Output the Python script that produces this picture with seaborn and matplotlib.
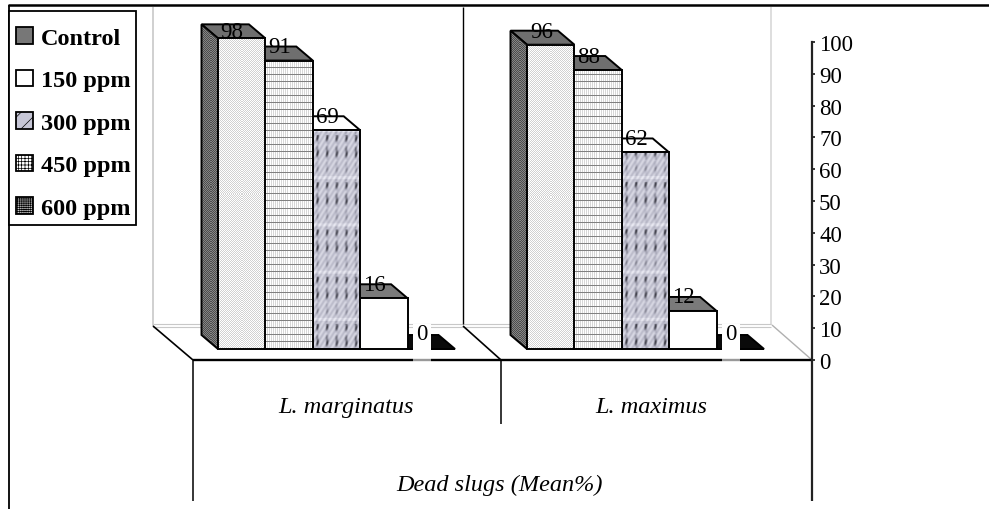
import numpy as np
import pandas as pd
import matplotlib
matplotlib.use("Agg")
import matplotlib.pyplot as plt
import seaborn as sns
from matplotlib.colors import LinearSegmentedColormap
from matplotlib.patches import Patch, Polygon, Rectangle
from matplotlib.lines import Line2D
from matplotlib.transforms import Affine2D

species = ["L. marginatus", "L. maximus"]
doses = ["Control", "150 ppm", "300 ppm", "450 ppm", "600 ppm"]
marginatus = [98, 91, 69, 16, 0]
maximus = [96, 88, 62, 12, 0]
y_ticks = [0, 10, 20, 30, 40, 50, 60, 70, 80, 90, 100]
axis_title = "Dead slugs (Mean%)"

# style per dose
front_faces = ["dots", "lines", "knit", "#ffffff", "#0a0a0a"]
top_faces = ["#6f6f6f", "#6f6f6f", "#ffffff", "#7a7a7a", "#0a0a0a"]

W, H = 989, 510
sns.set_style("white")
plt.rcParams['font.family'] = ['Liberation Serif', 'DejaVu Serif']
plt.rcParams['text.color'] = 'black'
plt.rcParams['hatch.linewidth'] = 0.5

fig = plt.figure(figsize=(W / 100, H / 100), dpi=100)
ax = fig.add_axes([0, 0, 1, 1])
# pixel coordinates for the frame, walls and floor
px = Affine2D().scale(1, -1).translate(0, H)

df = pd.DataFrame({
    'species': [species[0]] * 5 + [species[1]] * 5,
    'dose': doses * 2,
    'dead': marginatus + maximus,
})
sns.barplot(data=df, x='species', y='dead', hue='dose', hue_order=doses,
            order=species, palette=['white'] * 5, width=237 / 309, gap=0,
            errorbar=None, legend=False, edgecolor='black', linewidth=1.4, ax=ax)

# data scale so that 0 sits on the front of the floor
PX_PER_X = 309
PX_PER_Y = 3.17
ax.set_xlim((0 - 336.5) / PX_PER_X, (W - 336.5) / PX_PER_X)
ax.set_ylim((350 - H) / PX_PER_Y, 350 / PX_PER_Y)
xlim, ylim = ax.get_xlim(), ax.get_ylim()
ax.axis('off')

knit_cmap = LinearSegmentedColormap.from_list('knit', ['#3c3c46', '#b4b4c4', '#f0f0f8'])


def texture(kind, w, h):
    yy, xx = np.mgrid[0:h, 0:w]
    if kind == "dots":
        return np.where((xx + yy) % 2 == 0, 0.82, 1.0)
    if kind == "side":
        return np.where((xx + yy) % 2 == 0, 0.30, 0.52)
    if kind == "lines":
        arr = np.where(xx % 2 == 0, 0.84, 1.0)
        arr[(h - 1 - yy) % 7 == 0] = 0.5
        return arr
    # knit stitches, repeating in bands
    col = np.cos(2 * np.pi * (xx - 4) / 9.4)
    row = (h - yy) % 47 / 47.0
    dark = np.where(row < 0.55, 1.0, 0.45) * np.abs(np.sin(np.pi * row * 3))
    bright = np.where((row > 0.6) & (row < 0.66), 0.15, 0.0)
    return np.clip(0.68 - 0.62 * np.maximum(col, 0) ** 2 * dark + 0.14 * np.sin(xx * 1.3 + yy * 0.8) + bright, 0, 1)


dx, dy = 16.5 / PX_PER_X, 14 / PX_PER_Y
for i, bars in enumerate(ax.containers):
    z = 20 - 3 * i
    for bar in bars:
        x0, w, v = bar.get_x(), bar.get_width(), bar.get_height()
        bar.set_zorder(z)
        top = Polygon([(x0, v), (x0 + w, v), (x0 + w - dx, v + dy), (x0 - dx, v + dy)],
                      facecolor=top_faces[i], edgecolor='black', linewidth=1.4, zorder=z - 1)
        ax.add_patch(top)
        if v > 0:
            face = front_faces[i]
            if face in ("dots", "lines", "knit"):
                bar.set_facecolor('none')
                ax.imshow(texture(face, int(w * PX_PER_X), int(v * PX_PER_Y)),
                          cmap=knit_cmap if face == "knit" else 'gray',
                          vmin=0, vmax=1, aspect='auto', interpolation='bilinear' if face == "knit" else 'nearest',
                          extent=(x0, x0 + w, 0, v), zorder=z - 0.5)
            else:
                bar.set_facecolor(face)
        if i == 0:
            side = Polygon([(x0, 0), (x0, v), (x0 - dx, v + dy), (x0 - dx, dy)],
                           facecolor='none', edgecolor='black', linewidth=1.4, zorder=z - 0.7)
            ax.add_patch(side)
            side_img = ax.imshow(texture("side", 16, int(v * PX_PER_Y) + 14), cmap='gray',
                                 vmin=0, vmax=1, aspect='auto', interpolation='nearest',
                                 extent=(x0 - dx, x0, 0, v + dy), zorder=z - 0.8)
            side_img.set_clip_path(side)
        # value label above the bar
        off = min(14, 350 - v * PX_PER_Y - 33)
        ax.annotate(f"{v:.0f}", (x0 + w / 2, v), xytext=(-9.5, off if v > 0 else 15),
                    textcoords='offset pixels', ha='center', va='center', fontsize=16.5,
                    color='black', zorder=40)
ax.set_xlim(xlim)
ax.set_ylim(ylim)


def line(xs, ys, color='black', lw=1.2, z=3):
    ax.add_line(Line2D(xs, ys, transform=px, color=color, linewidth=lw, zorder=z,
                       solid_capstyle='butt'))


# frame
line([8, W], [6, 6], lw=1.8)
line([8.5, 8.5], [6, H], lw=1.3)
# back walls and floor
line([153, 153], [8, 327], color='#c8c8c8')
line([771, 771], [8, 326], color='#d8d8d8')
line([153, 771], [325, 325], color='#c8c8c8', lw=0.8)
line([153, 771], [327.5, 327.5], color='#c8c8c8', lw=0.8)
line([463, 463], [8, 325], lw=1)
line([153, 193], [327, 361])
line([463, 501], [327, 361])
line([772, 812], [326, 361], color='#b0b0b0', lw=1)
# front edge and dividers
line([193, 812], [361, 361], lw=1.7)
line([193, 193], [361, 502], lw=1.1)
line([501, 501], [361, 425], lw=1.1)
line([812, 812], [361, 502], color='#222222', lw=1.6)

# white gap behind the zero labels
for gap_x in (413, 722):
    ax.add_patch(Rectangle((gap_x, 325), 18, 38, transform=px, facecolor='white',
                           edgecolor='none', zorder=30))
    line([gap_x, gap_x + 18], [361, 361], color='#999999', lw=1.7, z=31)

# group labels
ax.text(346, 408, species[0], transform=px, ha='center', va='center', style='italic', fontsize=17.5)
ax.text(651, 408, species[1], transform=px, ha='center', va='center', style='italic', fontsize=17.5)
ax.text(500, 485, axis_title, transform=px, ha='center', va='center', style='italic', fontsize=17.5)

# value axis on the right
ax_y = fig.add_axes([812 / W, (H - 361) / H, 0.0001, 318 / H])
ax_y.patch.set_visible(False)
ax_y.set_ylim(0, 100)
ax_y.set_yticks(y_ticks)
ax_y.set_xticks([])
ax_y.yaxis.tick_right()
for name in ('top', 'bottom', 'left'):
    ax_y.spines[name].set_visible(False)
ax_y.spines['right'].set_visible(True)
ax_y.spines['right'].set_color('#222222')
ax_y.spines['right'].set_linewidth(1.6)
ax_y.tick_params(axis='y', right=True, direction='out', length=2.5, width=1.1, pad=2.5,
                 labelsize=16.5, colors='black')

# legend, with its box drawn separately to get the padding of the original
ax.add_patch(Rectangle((9, 12), 127, 214, transform=px, facecolor='white', edgecolor='black',
                       linewidth=1.3, zorder=45))
handles = [
    Patch(facecolor='#777777', edgecolor='black', linewidth=1.3),
    Patch(facecolor='white', edgecolor='black', linewidth=1.3),
    Patch(facecolor='#c6c6d6', edgecolor='black', linewidth=1.3, hatch='//'),
    Patch(facecolor='white', edgecolor='black', linewidth=1.3, hatch='+++++'),
    Patch(facecolor='#d0d0d0', edgecolor='black', linewidth=1.3, hatch='++++++++'),
]
leg = ax.legend(handles, doses, loc='upper left', bbox_to_anchor=(16, 28), bbox_transform=px,
                borderaxespad=0, borderpad=0, labelspacing=0.85, handlelength=0.68,
                handleheight=0.68, handletextpad=0.33, frameon=False,
                prop={'family': 'Liberation Serif', 'weight': 'bold', 'size': 17.5})
leg.set_zorder(50)

fig.savefig('out.png', dpi=100)
